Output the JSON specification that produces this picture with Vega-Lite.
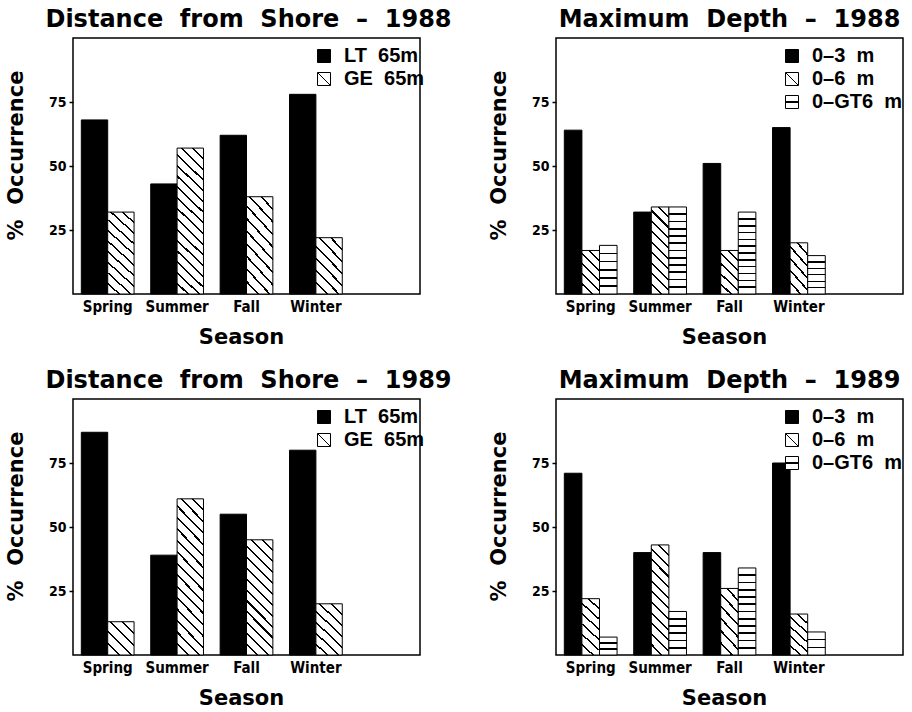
{
  "$schema": "https://vega.github.io/schema/vega-lite/v6.json",
  "background": "white",
  "padding": {"left": 4, "top": 7, "right": 5, "bottom": 5},
  "params": [
    {"name": "GLD", "value": {"gradient": "linear", "x1": 0, "y1": 1, "x2": 1, "y2": 0, "stops": [{"offset": 0.465, "color": "#fff"}, {"offset": 0.465, "color": "#000"}, {"offset": 0.535, "color": "#000"}, {"offset": 0.535, "color": "#fff"}]}},
    {"name": "GLH", "value": {"gradient": "linear", "x1": 0, "y1": 0, "x2": 0, "y2": 1, "stops": [{"offset": 0.45, "color": "#fff"}, {"offset": 0.45, "color": "#000"}, {"offset": 0.55, "color": "#000"}, {"offset": 0.55, "color": "#fff"}]}},
    {"name": "G1", "value": {"gradient": "linear", "x1": 0, "y1": 1, "x2": 0.873, "y2": -0.101, "stops": [
      {"offset": 0.182, "color": "#fff"}, {"offset": 0.182, "color": "#000"}, {"offset": 0.218, "color": "#000"}, {"offset": 0.218, "color": "#fff"},
      {"offset": 0.382, "color": "#fff"}, {"offset": 0.382, "color": "#000"}, {"offset": 0.418, "color": "#000"}, {"offset": 0.418, "color": "#fff"},
      {"offset": 0.582, "color": "#fff"}, {"offset": 0.582, "color": "#000"}, {"offset": 0.618, "color": "#000"}, {"offset": 0.618, "color": "#fff"},
      {"offset": 0.782, "color": "#fff"}, {"offset": 0.782, "color": "#000"}, {"offset": 0.818, "color": "#000"}, {"offset": 0.818, "color": "#fff"}]}},
    {"name": "G2", "value": {"gradient": "linear", "x1": 0, "y1": 1, "x2": 0.5896, "y2": -0.2016, "stops": [
      {"offset": 0.1297, "color": "#fff"}, {"offset": 0.1297, "color": "#000"}, {"offset": 0.1561, "color": "#000"}, {"offset": 0.1561, "color": "#fff"},
      {"offset": 0.2725, "color": "#fff"}, {"offset": 0.2725, "color": "#000"}, {"offset": 0.2989, "color": "#000"}, {"offset": 0.2989, "color": "#fff"},
      {"offset": 0.4154, "color": "#fff"}, {"offset": 0.4154, "color": "#000"}, {"offset": 0.4418, "color": "#000"}, {"offset": 0.4418, "color": "#fff"},
      {"offset": 0.5582, "color": "#fff"}, {"offset": 0.5582, "color": "#000"}, {"offset": 0.5846, "color": "#000"}, {"offset": 0.5846, "color": "#fff"},
      {"offset": 0.7011, "color": "#fff"}, {"offset": 0.7011, "color": "#000"}, {"offset": 0.7275, "color": "#000"}, {"offset": 0.7275, "color": "#fff"},
      {"offset": 0.8439, "color": "#fff"}, {"offset": 0.8439, "color": "#000"}, {"offset": 0.8703, "color": "#000"}, {"offset": 0.8703, "color": "#fff"}]}},
    {"name": "G3", "value": {"gradient": "linear", "x1": 0, "y1": 1, "x2": 0.351, "y2": -0.1912, "stops": [
      {"offset": 0.0909, "color": "#fff"}, {"offset": 0.0909, "color": "#000"}, {"offset": 0.1091, "color": "#000"}, {"offset": 0.1091, "color": "#fff"},
      {"offset": 0.1909, "color": "#fff"}, {"offset": 0.1909, "color": "#000"}, {"offset": 0.2091, "color": "#000"}, {"offset": 0.2091, "color": "#fff"},
      {"offset": 0.2909, "color": "#fff"}, {"offset": 0.2909, "color": "#000"}, {"offset": 0.3091, "color": "#000"}, {"offset": 0.3091, "color": "#fff"},
      {"offset": 0.3909, "color": "#fff"}, {"offset": 0.3909, "color": "#000"}, {"offset": 0.4091, "color": "#000"}, {"offset": 0.4091, "color": "#fff"},
      {"offset": 0.4909, "color": "#fff"}, {"offset": 0.4909, "color": "#000"}, {"offset": 0.5091, "color": "#000"}, {"offset": 0.5091, "color": "#fff"},
      {"offset": 0.5909, "color": "#fff"}, {"offset": 0.5909, "color": "#000"}, {"offset": 0.6091, "color": "#000"}, {"offset": 0.6091, "color": "#fff"},
      {"offset": 0.6909, "color": "#fff"}, {"offset": 0.6909, "color": "#000"}, {"offset": 0.7091, "color": "#000"}, {"offset": 0.7091, "color": "#fff"},
      {"offset": 0.7909, "color": "#fff"}, {"offset": 0.7909, "color": "#000"}, {"offset": 0.8091, "color": "#000"}, {"offset": 0.8091, "color": "#fff"},
      {"offset": 0.8909, "color": "#fff"}, {"offset": 0.8909, "color": "#000"}, {"offset": 0.9091, "color": "#000"}, {"offset": 0.9091, "color": "#fff"}]}},
    {"name": "G4", "value": {"gradient": "linear", "x1": 0, "y1": 1, "x2": 0.2676, "y2": -0.1678, "stops": [
      {"offset": 0.0694, "color": "#fff"}, {"offset": 0.0694, "color": "#000"}, {"offset": 0.0844, "color": "#000"}, {"offset": 0.0844, "color": "#fff"},
      {"offset": 0.1463, "color": "#fff"}, {"offset": 0.1463, "color": "#000"}, {"offset": 0.1613, "color": "#000"}, {"offset": 0.1613, "color": "#fff"},
      {"offset": 0.2233, "color": "#fff"}, {"offset": 0.2233, "color": "#000"}, {"offset": 0.2383, "color": "#000"}, {"offset": 0.2383, "color": "#fff"},
      {"offset": 0.3002, "color": "#fff"}, {"offset": 0.3002, "color": "#000"}, {"offset": 0.3152, "color": "#000"}, {"offset": 0.3152, "color": "#fff"},
      {"offset": 0.3771, "color": "#fff"}, {"offset": 0.3771, "color": "#000"}, {"offset": 0.3921, "color": "#000"}, {"offset": 0.3921, "color": "#fff"},
      {"offset": 0.454, "color": "#fff"}, {"offset": 0.454, "color": "#000"}, {"offset": 0.469, "color": "#000"}, {"offset": 0.469, "color": "#fff"},
      {"offset": 0.531, "color": "#fff"}, {"offset": 0.531, "color": "#000"}, {"offset": 0.546, "color": "#000"}, {"offset": 0.546, "color": "#fff"},
      {"offset": 0.6079, "color": "#fff"}, {"offset": 0.6079, "color": "#000"}, {"offset": 0.6229, "color": "#000"}, {"offset": 0.6229, "color": "#fff"},
      {"offset": 0.6848, "color": "#fff"}, {"offset": 0.6848, "color": "#000"}, {"offset": 0.6998, "color": "#000"}, {"offset": 0.6998, "color": "#fff"},
      {"offset": 0.7617, "color": "#fff"}, {"offset": 0.7617, "color": "#000"}, {"offset": 0.7767, "color": "#000"}, {"offset": 0.7767, "color": "#fff"},
      {"offset": 0.8387, "color": "#fff"}, {"offset": 0.8387, "color": "#000"}, {"offset": 0.8537, "color": "#000"}, {"offset": 0.8537, "color": "#fff"},
      {"offset": 0.9156, "color": "#fff"}, {"offset": 0.9156, "color": "#000"}, {"offset": 0.9306, "color": "#000"}, {"offset": 0.9306, "color": "#fff"}]}},
    {"name": "G5", "value": {"gradient": "linear", "x1": 0, "y1": 1, "x2": 0.1993, "y2": -0.14, "stops": [
      {"offset": 0.0565, "color": "#fff"}, {"offset": 0.0565, "color": "#000"}, {"offset": 0.0685, "color": "#000"}, {"offset": 0.0685, "color": "#fff"},
      {"offset": 0.119, "color": "#fff"}, {"offset": 0.119, "color": "#000"}, {"offset": 0.131, "color": "#000"}, {"offset": 0.131, "color": "#fff"},
      {"offset": 0.1815, "color": "#fff"}, {"offset": 0.1815, "color": "#000"}, {"offset": 0.1935, "color": "#000"}, {"offset": 0.1935, "color": "#fff"},
      {"offset": 0.244, "color": "#fff"}, {"offset": 0.244, "color": "#000"}, {"offset": 0.256, "color": "#000"}, {"offset": 0.256, "color": "#fff"},
      {"offset": 0.3065, "color": "#fff"}, {"offset": 0.3065, "color": "#000"}, {"offset": 0.3185, "color": "#000"}, {"offset": 0.3185, "color": "#fff"},
      {"offset": 0.369, "color": "#fff"}, {"offset": 0.369, "color": "#000"}, {"offset": 0.381, "color": "#000"}, {"offset": 0.381, "color": "#fff"},
      {"offset": 0.4315, "color": "#fff"}, {"offset": 0.4315, "color": "#000"}, {"offset": 0.4435, "color": "#000"}, {"offset": 0.4435, "color": "#fff"},
      {"offset": 0.494, "color": "#fff"}, {"offset": 0.494, "color": "#000"}, {"offset": 0.506, "color": "#000"}, {"offset": 0.506, "color": "#fff"},
      {"offset": 0.5565, "color": "#fff"}, {"offset": 0.5565, "color": "#000"}, {"offset": 0.5685, "color": "#000"}, {"offset": 0.5685, "color": "#fff"},
      {"offset": 0.619, "color": "#fff"}, {"offset": 0.619, "color": "#000"}, {"offset": 0.631, "color": "#000"}, {"offset": 0.631, "color": "#fff"},
      {"offset": 0.6815, "color": "#fff"}, {"offset": 0.6815, "color": "#000"}, {"offset": 0.6935, "color": "#000"}, {"offset": 0.6935, "color": "#fff"},
      {"offset": 0.744, "color": "#fff"}, {"offset": 0.744, "color": "#000"}, {"offset": 0.756, "color": "#000"}, {"offset": 0.756, "color": "#fff"},
      {"offset": 0.8065, "color": "#fff"}, {"offset": 0.8065, "color": "#000"}, {"offset": 0.8185, "color": "#000"}, {"offset": 0.8185, "color": "#fff"},
      {"offset": 0.869, "color": "#fff"}, {"offset": 0.869, "color": "#000"}, {"offset": 0.881, "color": "#000"}, {"offset": 0.881, "color": "#fff"},
      {"offset": 0.9315, "color": "#fff"}, {"offset": 0.9315, "color": "#000"}, {"offset": 0.9435, "color": "#000"}, {"offset": 0.9435, "color": "#fff"}]}},
    {"name": "H1", "value": {"gradient": "linear", "x1": 0, "y1": 1, "x2": 0.4719, "y2": -0.2065, "stops": [
      {"offset": 0.1498, "color": "#fff"}, {"offset": 0.1498, "color": "#000"}, {"offset": 0.1836, "color": "#000"}, {"offset": 0.1836, "color": "#fff"},
      {"offset": 0.3164, "color": "#fff"}, {"offset": 0.3164, "color": "#000"}, {"offset": 0.3502, "color": "#000"}, {"offset": 0.3502, "color": "#fff"},
      {"offset": 0.4831, "color": "#fff"}, {"offset": 0.4831, "color": "#000"}, {"offset": 0.5169, "color": "#000"}, {"offset": 0.5169, "color": "#fff"},
      {"offset": 0.6498, "color": "#fff"}, {"offset": 0.6498, "color": "#000"}, {"offset": 0.6836, "color": "#000"}, {"offset": 0.6836, "color": "#fff"},
      {"offset": 0.8164, "color": "#fff"}, {"offset": 0.8164, "color": "#000"}, {"offset": 0.8502, "color": "#000"}, {"offset": 0.8502, "color": "#fff"}]}},
    {"name": "H2", "value": {"gradient": "linear", "x1": 0, "y1": 1, "x2": 0.3402, "y2": -0.1888, "stops": [
      {"offset": 0.1295, "color": "#fff"}, {"offset": 0.1295, "color": "#000"}, {"offset": 0.1563, "color": "#000"}, {"offset": 0.1563, "color": "#fff"},
      {"offset": 0.2723, "color": "#fff"}, {"offset": 0.2723, "color": "#000"}, {"offset": 0.2991, "color": "#000"}, {"offset": 0.2991, "color": "#fff"},
      {"offset": 0.4152, "color": "#fff"}, {"offset": 0.4152, "color": "#000"}, {"offset": 0.442, "color": "#000"}, {"offset": 0.442, "color": "#fff"},
      {"offset": 0.558, "color": "#fff"}, {"offset": 0.558, "color": "#000"}, {"offset": 0.5848, "color": "#000"}, {"offset": 0.5848, "color": "#fff"},
      {"offset": 0.7009, "color": "#fff"}, {"offset": 0.7009, "color": "#000"}, {"offset": 0.7277, "color": "#000"}, {"offset": 0.7277, "color": "#fff"},
      {"offset": 0.8437, "color": "#fff"}, {"offset": 0.8437, "color": "#000"}, {"offset": 0.8705, "color": "#000"}, {"offset": 0.8705, "color": "#fff"}]}},
    {"name": "H3", "value": {"gradient": "linear", "x1": 0, "y1": 1, "x2": 0.2337, "y2": -0.155, "stops": [
      {"offset": 0.0899, "color": "#fff"}, {"offset": 0.0899, "color": "#000"}, {"offset": 0.1101, "color": "#000"}, {"offset": 0.1101, "color": "#fff"},
      {"offset": 0.1899, "color": "#fff"}, {"offset": 0.1899, "color": "#000"}, {"offset": 0.2101, "color": "#000"}, {"offset": 0.2101, "color": "#fff"},
      {"offset": 0.2899, "color": "#fff"}, {"offset": 0.2899, "color": "#000"}, {"offset": 0.3101, "color": "#000"}, {"offset": 0.3101, "color": "#fff"},
      {"offset": 0.3899, "color": "#fff"}, {"offset": 0.3899, "color": "#000"}, {"offset": 0.4101, "color": "#000"}, {"offset": 0.4101, "color": "#fff"},
      {"offset": 0.4899, "color": "#fff"}, {"offset": 0.4899, "color": "#000"}, {"offset": 0.5101, "color": "#000"}, {"offset": 0.5101, "color": "#fff"},
      {"offset": 0.5899, "color": "#fff"}, {"offset": 0.5899, "color": "#000"}, {"offset": 0.6101, "color": "#000"}, {"offset": 0.6101, "color": "#fff"},
      {"offset": 0.6899, "color": "#fff"}, {"offset": 0.6899, "color": "#000"}, {"offset": 0.7101, "color": "#000"}, {"offset": 0.7101, "color": "#fff"},
      {"offset": 0.7899, "color": "#fff"}, {"offset": 0.7899, "color": "#000"}, {"offset": 0.8101, "color": "#000"}, {"offset": 0.8101, "color": "#fff"},
      {"offset": 0.8899, "color": "#fff"}, {"offset": 0.8899, "color": "#000"}, {"offset": 0.9101, "color": "#000"}, {"offset": 0.9101, "color": "#fff"}]}},
    {"name": "H4", "value": {"gradient": "linear", "x1": 0, "y1": 1, "x2": 0.181, "y2": -0.131, "stops": [
      {"offset": 0.075, "color": "#fff"}, {"offset": 0.075, "color": "#000"}, {"offset": 0.0916, "color": "#000"}, {"offset": 0.0916, "color": "#fff"},
      {"offset": 0.1584, "color": "#fff"}, {"offset": 0.1584, "color": "#000"}, {"offset": 0.175, "color": "#000"}, {"offset": 0.175, "color": "#fff"},
      {"offset": 0.2417, "color": "#fff"}, {"offset": 0.2417, "color": "#000"}, {"offset": 0.2583, "color": "#000"}, {"offset": 0.2583, "color": "#fff"},
      {"offset": 0.325, "color": "#fff"}, {"offset": 0.325, "color": "#000"}, {"offset": 0.3416, "color": "#000"}, {"offset": 0.3416, "color": "#fff"},
      {"offset": 0.4084, "color": "#fff"}, {"offset": 0.4084, "color": "#000"}, {"offset": 0.425, "color": "#000"}, {"offset": 0.425, "color": "#fff"},
      {"offset": 0.4917, "color": "#fff"}, {"offset": 0.4917, "color": "#000"}, {"offset": 0.5083, "color": "#000"}, {"offset": 0.5083, "color": "#fff"},
      {"offset": 0.575, "color": "#fff"}, {"offset": 0.575, "color": "#000"}, {"offset": 0.5916, "color": "#000"}, {"offset": 0.5916, "color": "#fff"},
      {"offset": 0.6584, "color": "#fff"}, {"offset": 0.6584, "color": "#000"}, {"offset": 0.675, "color": "#000"}, {"offset": 0.675, "color": "#fff"},
      {"offset": 0.7417, "color": "#fff"}, {"offset": 0.7417, "color": "#000"}, {"offset": 0.7583, "color": "#000"}, {"offset": 0.7583, "color": "#fff"},
      {"offset": 0.825, "color": "#fff"}, {"offset": 0.825, "color": "#000"}, {"offset": 0.8416, "color": "#000"}, {"offset": 0.8416, "color": "#fff"},
      {"offset": 0.9084, "color": "#fff"}, {"offset": 0.9084, "color": "#000"}, {"offset": 0.925, "color": "#000"}, {"offset": 0.925, "color": "#fff"}]}},
    {"name": "V1", "value": {"gradient": "linear", "x1": 0, "y1": 0, "x2": 0, "y2": 1, "stops": [
      {"offset": 0.2893, "color": "#fff"}, {"offset": 0.2893, "color": "#000"}, {"offset": 0.3773, "color": "#000"}, {"offset": 0.3773, "color": "#fff"},
      {"offset": 0.6227, "color": "#fff"}, {"offset": 0.6227, "color": "#000"}, {"offset": 0.7107, "color": "#000"}, {"offset": 0.7107, "color": "#fff"}]}},
    {"name": "V2", "value": {"gradient": "linear", "x1": 0, "y1": 0, "x2": 0, "y2": 1, "stops": [
      {"offset": 0.2983, "color": "#fff"}, {"offset": 0.2983, "color": "#000"}, {"offset": 0.3683, "color": "#000"}, {"offset": 0.3683, "color": "#fff"},
      {"offset": 0.6317, "color": "#fff"}, {"offset": 0.6317, "color": "#000"}, {"offset": 0.7017, "color": "#000"}, {"offset": 0.7017, "color": "#fff"}]}},
    {"name": "V3", "value": {"gradient": "linear", "x1": 0, "y1": 0, "x2": 0, "y2": 1, "stops": [
      {"offset": 0.1487, "color": "#fff"}, {"offset": 0.1487, "color": "#000"}, {"offset": 0.1847, "color": "#000"}, {"offset": 0.1847, "color": "#fff"},
      {"offset": 0.3153, "color": "#fff"}, {"offset": 0.3153, "color": "#000"}, {"offset": 0.3513, "color": "#000"}, {"offset": 0.3513, "color": "#fff"},
      {"offset": 0.482, "color": "#fff"}, {"offset": 0.482, "color": "#000"}, {"offset": 0.518, "color": "#000"}, {"offset": 0.518, "color": "#fff"},
      {"offset": 0.6487, "color": "#fff"}, {"offset": 0.6487, "color": "#000"}, {"offset": 0.6847, "color": "#000"}, {"offset": 0.6847, "color": "#fff"},
      {"offset": 0.8153, "color": "#fff"}, {"offset": 0.8153, "color": "#000"}, {"offset": 0.8513, "color": "#000"}, {"offset": 0.8513, "color": "#fff"}]}},
    {"name": "V4", "value": {"gradient": "linear", "x1": 0, "y1": 0, "x2": 0, "y2": 1, "stops": [
      {"offset": 0.0739, "color": "#fff"}, {"offset": 0.0739, "color": "#000"}, {"offset": 0.0927, "color": "#000"}, {"offset": 0.0927, "color": "#fff"},
      {"offset": 0.1573, "color": "#fff"}, {"offset": 0.1573, "color": "#000"}, {"offset": 0.1761, "color": "#000"}, {"offset": 0.1761, "color": "#fff"},
      {"offset": 0.2406, "color": "#fff"}, {"offset": 0.2406, "color": "#000"}, {"offset": 0.2594, "color": "#000"}, {"offset": 0.2594, "color": "#fff"},
      {"offset": 0.3239, "color": "#fff"}, {"offset": 0.3239, "color": "#000"}, {"offset": 0.3427, "color": "#000"}, {"offset": 0.3427, "color": "#fff"},
      {"offset": 0.4073, "color": "#fff"}, {"offset": 0.4073, "color": "#000"}, {"offset": 0.4261, "color": "#000"}, {"offset": 0.4261, "color": "#fff"},
      {"offset": 0.4906, "color": "#fff"}, {"offset": 0.4906, "color": "#000"}, {"offset": 0.5094, "color": "#000"}, {"offset": 0.5094, "color": "#fff"},
      {"offset": 0.5739, "color": "#fff"}, {"offset": 0.5739, "color": "#000"}, {"offset": 0.5927, "color": "#000"}, {"offset": 0.5927, "color": "#fff"},
      {"offset": 0.6573, "color": "#fff"}, {"offset": 0.6573, "color": "#000"}, {"offset": 0.6761, "color": "#000"}, {"offset": 0.6761, "color": "#fff"},
      {"offset": 0.7406, "color": "#fff"}, {"offset": 0.7406, "color": "#000"}, {"offset": 0.7594, "color": "#000"}, {"offset": 0.7594, "color": "#fff"},
      {"offset": 0.8239, "color": "#fff"}, {"offset": 0.8239, "color": "#000"}, {"offset": 0.8427, "color": "#000"}, {"offset": 0.8427, "color": "#fff"},
      {"offset": 0.9073, "color": "#fff"}, {"offset": 0.9073, "color": "#000"}, {"offset": 0.9261, "color": "#000"}, {"offset": 0.9261, "color": "#fff"}]}}
  ],
  "datasets": {
    "dist1988": [
      {"season": "Spring", "series": "LT 65m", "pct": 68},
      {"season": "Summer", "series": "LT 65m", "pct": 43},
      {"season": "Fall", "series": "LT 65m", "pct": 62},
      {"season": "Winter", "series": "LT 65m", "pct": 78},
      {"season": "Spring", "series": "GE 65m", "pct": 32},
      {"season": "Summer", "series": "GE 65m", "pct": 57},
      {"season": "Fall", "series": "GE 65m", "pct": 38},
      {"season": "Winter", "series": "GE 65m", "pct": 22}
    ],
    "depth1988": [
      {"season": "Spring", "series": "0–3 m", "pct": 64},
      {"season": "Summer", "series": "0–3 m", "pct": 32},
      {"season": "Fall", "series": "0–3 m", "pct": 51},
      {"season": "Winter", "series": "0–3 m", "pct": 65},
      {"season": "Spring", "series": "0–6 m", "pct": 17},
      {"season": "Summer", "series": "0–6 m", "pct": 34},
      {"season": "Fall", "series": "0–6 m", "pct": 17},
      {"season": "Winter", "series": "0–6 m", "pct": 20},
      {"season": "Spring", "series": "0–GT6 m", "pct": 19},
      {"season": "Summer", "series": "0–GT6 m", "pct": 34},
      {"season": "Fall", "series": "0–GT6 m", "pct": 32},
      {"season": "Winter", "series": "0–GT6 m", "pct": 15}
    ],
    "dist1989": [
      {"season": "Spring", "series": "LT 65m", "pct": 87},
      {"season": "Summer", "series": "LT 65m", "pct": 39},
      {"season": "Fall", "series": "LT 65m", "pct": 55},
      {"season": "Winter", "series": "LT 65m", "pct": 80},
      {"season": "Spring", "series": "GE 65m", "pct": 13},
      {"season": "Summer", "series": "GE 65m", "pct": 61},
      {"season": "Fall", "series": "GE 65m", "pct": 45},
      {"season": "Winter", "series": "GE 65m", "pct": 20}
    ],
    "depth1989": [
      {"season": "Spring", "series": "0–3 m", "pct": 71},
      {"season": "Summer", "series": "0–3 m", "pct": 40},
      {"season": "Fall", "series": "0–3 m", "pct": 40},
      {"season": "Winter", "series": "0–3 m", "pct": 75},
      {"season": "Spring", "series": "0–6 m", "pct": 22},
      {"season": "Summer", "series": "0–6 m", "pct": 43},
      {"season": "Fall", "series": "0–6 m", "pct": 26},
      {"season": "Winter", "series": "0–6 m", "pct": 16},
      {"season": "Spring", "series": "0–GT6 m", "pct": 7},
      {"season": "Summer", "series": "0–GT6 m", "pct": 17},
      {"season": "Fall", "series": "0–GT6 m", "pct": 34},
      {"season": "Winter", "series": "0–GT6 m", "pct": 9}
    ]
  },
  "config": {
    "view": {"stroke": "#000", "strokeWidth": 1.5},
    "title": {"font": "DejaVu Sans", "fontSize": 24, "fontWeight": "bold", "color": "#000", "anchor": "middle", "frame": "group", "offset": 6},
    "axis": {"domain": false, "grid": false, "labelColor": "#000", "titleColor": "#000", "tickColor": "#000", "tickWidth": 1.5, "labelFont": "Liberation Sans Narrow, DejaVu Sans Condensed, sans-serif", "labelFontWeight": "bold", "titleFont": "DejaVu Sans", "titleFontWeight": "bold", "titleFontSize": 21},
    "axisX": {"labelFontSize": 15, "ticks": false, "labelPadding": 5, "titlePadding": 12, "labelAngle": 0, "titleX": 168},
    "axisY": {"labelFontSize": 14, "tickSize": 4, "labelPadding": 3, "titlePadding": 22, "titleY": 117},
    "legend": {"labelFont": "Liberation Sans", "labelFontSize": 20, "labelFontWeight": "bold", "labelColor": "#000", "symbolType": "square", "symbolSize": 169, "symbolStrokeColor": "#000", "symbolStrokeWidth": 1, "rowPadding": 3, "labelOffset": 10, "padding": 0, "labelLimit": 300}
  },
  "columns": 2,
  "spacing": {"row": 105, "column": 136},
  "bounds": "flush",
  "resolve": {"scale": {"fill": "independent", "xOffset": "independent", "x": "independent", "y": "independent"}, "legend": {"fill": "independent"}},
  "concat": [
    {
      "width": 347, "height": 256,
      "title": {"text": "Distance\u00a0\u00a0from\u00a0\u00a0Shore\u00a0\u00a0–\u00a0\u00a01988", "dx": 2},
      "data": {"name": "dist1988"},
      "mark": {"type": "bar", "stroke": "#000", "strokeWidth": 1},
      "encoding": {
        "x": {"field": "season", "type": "nominal", "title": "Season", "scale": {"domain": ["Spring", "Summer", "Fall", "Winter", " "], "paddingInner": 0.24, "paddingOuter": 0.12}},
        "xOffset": {"field": "series", "type": "nominal", "scale": {"domain": ["LT 65m", "GE 65m"], "paddingInner": 0, "paddingOuter": 0}},
        "y": {"field": "pct", "type": "quantitative", "title": "%\u00a0\u00a0Occurrence", "scale": {"domain": [0, 100]}, "axis": {"values": [25, 50, 75]}},
        "fill": {"field": "series", "type": "nominal",
          "scale": {"domain": ["LT 65m", "GE 65m"], "range": ["#000", {"expr": "GLD"}]},
          "legend": {"title": null, "orient": "none", "legendX": 241, "legendY": 8, "labelExpr": "replace(datum.label, ' ', '\u00a0\u00a0')"},
          "condition": [
            {"test": "datum.series === 'GE 65m' && datum.pct < 16", "value": {"expr": "G1"}},
            {"test": "datum.series === 'GE 65m' && datum.pct < 28", "value": {"expr": "G2"}},
            {"test": "datum.series === 'GE 65m' && datum.pct < 42", "value": {"expr": "G3"}},
            {"test": "datum.series === 'GE 65m' && datum.pct < 52", "value": {"expr": "G4"}},
            {"test": "datum.series === 'GE 65m'", "value": {"expr": "G5"}}
          ]}
      }
    },
    {
      "width": 347, "height": 256,
      "title": {"text": "Maximum\u00a0\u00a0Depth\u00a0\u00a0–\u00a0\u00a01988"},
      "data": {"name": "depth1988"},
      "mark": {"type": "bar", "stroke": "#000", "strokeWidth": 1},
      "encoding": {
        "x": {"field": "season", "type": "nominal", "title": "Season", "scale": {"domain": ["Spring", "Summer", "Fall", "Winter", " "], "paddingInner": 0.24, "paddingOuter": 0.12}},
        "xOffset": {"field": "series", "type": "nominal", "scale": {"domain": ["0–3 m", "0–6 m", "0–GT6 m"], "paddingInner": 0, "paddingOuter": 0}},
        "y": {"field": "pct", "type": "quantitative", "title": "%\u00a0\u00a0Occurrence", "scale": {"domain": [0, 100]}, "axis": {"values": [25, 50, 75]}},
        "fill": {"field": "series", "type": "nominal",
          "scale": {"domain": ["0–3 m", "0–6 m", "0–GT6 m"], "range": ["#000", {"expr": "GLD"}, {"expr": "GLH"}]},
          "legend": {"title": null, "orient": "none", "legendX": 226, "legendY": 8, "labelExpr": "replace(datum.label, ' ', '\u00a0\u00a0')"},
          "condition": [
            {"test": "datum.series === '0–6 m' && datum.pct < 21", "value": {"expr": "H1"}},
            {"test": "datum.series === '0–6 m' && datum.pct < 30", "value": {"expr": "H2"}},
            {"test": "datum.series === '0–6 m' && datum.pct < 40", "value": {"expr": "H3"}},
            {"test": "datum.series === '0–6 m'", "value": {"expr": "H4"}},
            {"test": "datum.series === '0–GT6 m' && datum.pct < 8", "value": {"expr": "V1"}},
            {"test": "datum.series === '0–GT6 m' && datum.pct < 12", "value": {"expr": "V2"}},
            {"test": "datum.series === '0–GT6 m' && datum.pct < 25", "value": {"expr": "V3"}},
            {"test": "datum.series === '0–GT6 m'", "value": {"expr": "V4"}}
          ]}
      }
    },
    {
      "width": 347, "height": 256,
      "title": {"text": "Distance\u00a0\u00a0from\u00a0\u00a0Shore\u00a0\u00a0–\u00a0\u00a01989", "dx": 2},
      "data": {"name": "dist1989"},
      "mark": {"type": "bar", "stroke": "#000", "strokeWidth": 1},
      "encoding": {
        "x": {"field": "season", "type": "nominal", "title": "Season", "scale": {"domain": ["Spring", "Summer", "Fall", "Winter", " "], "paddingInner": 0.24, "paddingOuter": 0.12}},
        "xOffset": {"field": "series", "type": "nominal", "scale": {"domain": ["LT 65m", "GE 65m"], "paddingInner": 0, "paddingOuter": 0}},
        "y": {"field": "pct", "type": "quantitative", "title": "%\u00a0\u00a0Occurrence", "scale": {"domain": [0, 100]}, "axis": {"values": [25, 50, 75]}},
        "fill": {"field": "series", "type": "nominal",
          "scale": {"domain": ["LT 65m", "GE 65m"], "range": ["#000", {"expr": "GLD"}]},
          "legend": {"title": null, "orient": "none", "legendX": 241, "legendY": 8, "labelExpr": "replace(datum.label, ' ', '\u00a0\u00a0')"},
          "condition": [
            {"test": "datum.series === 'GE 65m' && datum.pct < 16", "value": {"expr": "G1"}},
            {"test": "datum.series === 'GE 65m' && datum.pct < 28", "value": {"expr": "G2"}},
            {"test": "datum.series === 'GE 65m' && datum.pct < 42", "value": {"expr": "G3"}},
            {"test": "datum.series === 'GE 65m' && datum.pct < 52", "value": {"expr": "G4"}},
            {"test": "datum.series === 'GE 65m'", "value": {"expr": "G5"}}
          ]}
      }
    },
    {
      "width": 347, "height": 256,
      "title": {"text": "Maximum\u00a0\u00a0Depth\u00a0\u00a0–\u00a0\u00a01989"},
      "data": {"name": "depth1989"},
      "mark": {"type": "bar", "stroke": "#000", "strokeWidth": 1},
      "encoding": {
        "x": {"field": "season", "type": "nominal", "title": "Season", "scale": {"domain": ["Spring", "Summer", "Fall", "Winter", " "], "paddingInner": 0.24, "paddingOuter": 0.12}},
        "xOffset": {"field": "series", "type": "nominal", "scale": {"domain": ["0–3 m", "0–6 m", "0–GT6 m"], "paddingInner": 0, "paddingOuter": 0}},
        "y": {"field": "pct", "type": "quantitative", "title": "%\u00a0\u00a0Occurrence", "scale": {"domain": [0, 100]}, "axis": {"values": [25, 50, 75]}},
        "fill": {"field": "series", "type": "nominal",
          "scale": {"domain": ["0–3 m", "0–6 m", "0–GT6 m"], "range": ["#000", {"expr": "GLD"}, {"expr": "GLH"}]},
          "legend": {"title": null, "orient": "none", "legendX": 226, "legendY": 8, "labelExpr": "replace(datum.label, ' ', '\u00a0\u00a0')"},
          "condition": [
            {"test": "datum.series === '0–6 m' && datum.pct < 21", "value": {"expr": "H1"}},
            {"test": "datum.series === '0–6 m' && datum.pct < 30", "value": {"expr": "H2"}},
            {"test": "datum.series === '0–6 m' && datum.pct < 40", "value": {"expr": "H3"}},
            {"test": "datum.series === '0–6 m'", "value": {"expr": "H4"}},
            {"test": "datum.series === '0–GT6 m' && datum.pct < 8", "value": {"expr": "V1"}},
            {"test": "datum.series === '0–GT6 m' && datum.pct < 12", "value": {"expr": "V2"}},
            {"test": "datum.series === '0–GT6 m' && datum.pct < 25", "value": {"expr": "V3"}},
            {"test": "datum.series === '0–GT6 m'", "value": {"expr": "V4"}}
          ]}
      }
    }
  ]
}
